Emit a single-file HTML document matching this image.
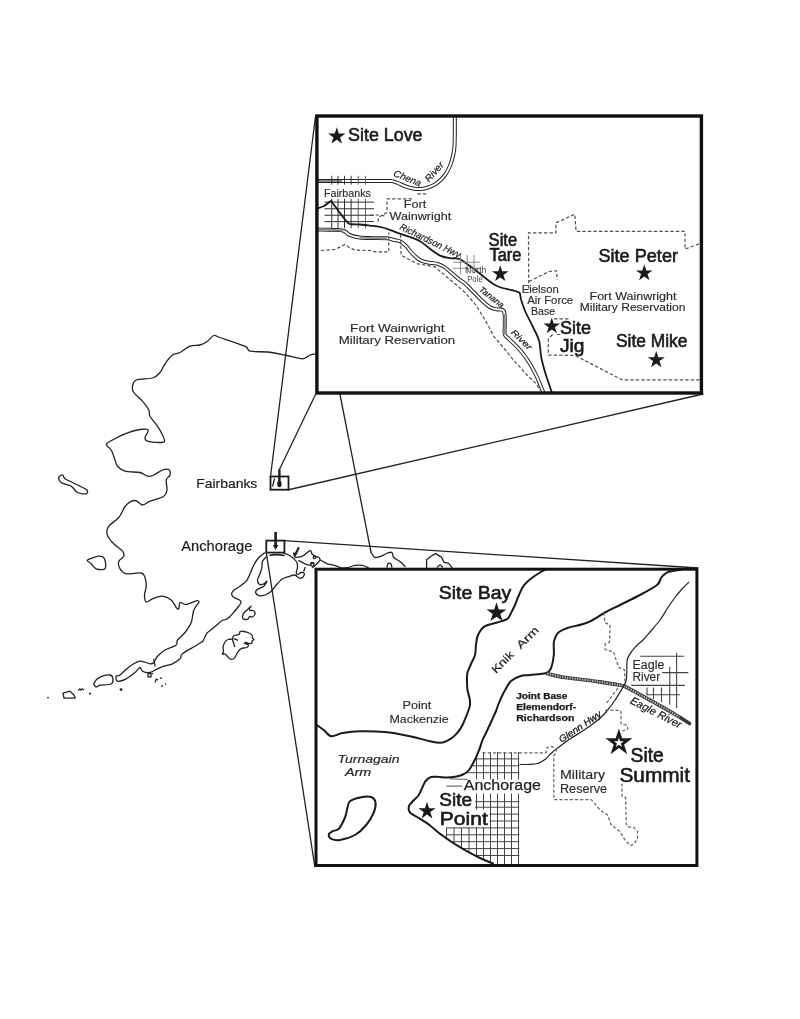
<!DOCTYPE html>
<html><head><meta charset="utf-8"><title>Alaska Nike sites map</title>
<style>html,body{margin:0;padding:0;background:#fff;}svg{display:block;will-change:transform;}text{font-family:"Liberation Sans",sans-serif;fill:#1a1a1a;}.c{fill:none;stroke:#222;stroke-width:1.3;stroke-linejoin:round;stroke-linecap:round;}.k{fill:none;stroke:#1a1a1a;stroke-width:2;stroke-linejoin:round;stroke-linecap:round;}.t{fill:none;stroke:#222;stroke-width:1;}.d{fill:none;stroke:#505050;stroke-width:1.2;stroke-dasharray:3.4 2.1;}.g{fill:none;stroke:#444;stroke-width:0.9;}.s{fill:#1a1a1a;stroke:none;}</style></head><body>
<svg width="800" height="1019" viewBox="0 0 800 1019">
<rect width="800" height="1019" fill="#fff"/>
<path class="c" d="M317.0 353.8C315.8 354.0 312.4 354.2 310.0 355.0C307.6 355.8 306.7 358.8 302.5 358.8C298.3 358.8 290.8 356.1 285.0 355.0C279.2 353.9 273.3 352.6 267.5 352.0C261.7 351.4 253.8 352.2 250.0 351.2C246.2 350.3 250.0 348.5 245.0 346.2C240.0 344.0 225.2 339.3 220.0 337.5C214.8 335.7 215.8 334.9 213.8 335.5C211.7 336.1 209.8 339.7 207.5 341.2C205.2 342.8 202.9 344.2 200.0 345.0C197.1 345.8 193.3 345.0 190.0 346.2C186.7 347.5 182.9 351.0 180.0 352.5C177.1 354.0 175.0 353.1 172.5 355.0C170.0 356.9 167.1 360.8 165.0 363.8C162.9 366.7 162.1 370.1 160.0 372.5C157.9 374.9 156.5 376.8 152.5 378.0C148.5 379.2 139.6 378.6 136.2 380.0C132.9 381.4 132.9 384.2 132.5 386.2C132.1 388.3 132.1 390.0 133.8 392.5C135.4 395.0 140.0 398.3 142.5 401.2C145.0 404.2 147.5 407.5 148.8 410.0C150.0 412.5 148.5 413.5 150.0 416.2C151.5 419.0 155.4 423.1 157.5 426.2C159.6 429.4 161.3 432.5 162.5 435.0C163.7 437.5 164.9 440.0 164.5 441.2C164.1 442.5 162.8 442.5 160.0 442.5C157.2 442.5 150.0 442.1 147.5 441.2C145.0 440.4 144.9 439.4 145.0 437.5C145.1 435.6 149.1 431.3 148.2 430.0C147.4 428.7 143.9 428.9 140.0 429.5C136.1 430.1 129.6 432.0 125.0 433.8C120.4 435.5 115.6 438.2 112.5 440.0C109.4 441.8 106.5 442.8 106.2 444.5C106.0 446.2 109.8 447.4 111.2 450.0C112.7 452.6 114.0 457.3 115.0 460.0C116.0 462.7 115.8 464.4 117.5 466.2C119.2 468.1 121.2 470.2 125.0 471.2C128.8 472.3 136.2 471.7 140.0 472.5C143.8 473.3 145.2 475.8 147.5 476.2C149.8 476.7 151.2 476.0 153.8 475.0C156.2 474.0 160.0 470.9 162.5 470.0C165.0 469.1 167.5 468.7 168.8 469.5C170.0 470.3 170.4 473.2 170.0 475.0C169.6 476.8 166.8 477.5 166.2 480.0C165.8 482.5 167.4 487.3 167.0 490.0C166.6 492.7 166.6 494.4 163.8 496.2C160.9 498.1 153.5 499.8 150.0 501.2C146.5 502.7 145.0 505.1 142.5 505.0C140.0 504.9 137.7 500.5 135.0 500.5C132.3 500.5 129.0 502.2 126.2 505.0C123.5 507.8 121.7 514.0 118.8 517.5C115.8 521.0 110.7 523.5 108.8 526.2C106.8 529.0 106.4 531.0 107.0 533.8C107.6 536.5 109.9 539.6 112.5 542.5C115.1 545.4 120.6 549.0 122.5 551.2C124.4 553.5 124.4 554.6 123.8 556.2C123.1 557.9 119.4 559.2 118.8 561.2C118.1 563.3 118.8 566.7 120.0 568.8C121.2 570.8 122.7 573.0 126.2 573.8C129.8 574.5 138.1 572.4 141.2 573.0C144.4 573.6 144.2 575.3 145.0 577.5C145.8 579.7 146.3 583.3 146.2 586.2C146.2 589.2 144.5 592.4 144.5 595.0C144.5 597.6 144.9 601.4 146.2 602.0C147.6 602.6 149.8 599.7 152.5 598.8C155.2 597.8 159.4 596.0 162.5 596.2C165.6 596.5 169.0 598.1 171.2 600.0C173.5 601.9 175.0 606.0 176.2 607.5C177.5 609.0 178.1 609.6 178.8 608.8C179.4 607.9 178.8 603.2 180.0 602.5C181.2 601.8 183.5 604.8 186.2 604.5C189.0 604.2 194.2 601.1 196.2 600.8C198.3 600.4 199.2 601.0 198.8 602.5C198.3 604.0 195.0 606.7 193.8 610.0C192.5 613.3 192.7 618.8 191.2 622.5C189.8 626.2 187.3 629.6 185.0 632.5C182.7 635.4 179.0 637.9 177.5 640.0C176.0 642.1 178.3 643.3 176.2 645.0C174.2 646.7 168.1 648.1 165.0 650.0C161.9 651.9 159.4 654.2 157.5 656.2C155.6 658.3 155.0 661.2 153.8 662.5C152.5 663.8 152.3 664.0 150.0 663.8C147.7 663.5 143.3 660.8 140.0 661.2C136.7 661.7 133.3 664.0 130.0 666.2C126.7 668.5 122.3 673.3 120.0 675.0C117.7 676.7 116.7 675.2 116.2 676.2C115.8 677.3 115.8 680.8 117.5 681.2C119.2 681.7 123.3 680.2 126.2 678.8C129.2 677.3 132.7 674.4 135.0 672.5C137.3 670.6 138.8 667.7 140.0 667.5C141.2 667.3 140.8 670.4 142.5 671.2C144.2 672.1 147.5 672.9 150.0 672.5C152.5 672.1 155.2 669.8 157.5 668.8C159.8 667.7 161.2 667.1 163.8 666.2C166.2 665.4 169.8 665.0 172.5 663.8C175.2 662.5 178.3 660.4 180.0 658.8C181.7 657.1 180.0 655.8 182.5 653.8C185.0 651.7 192.1 648.0 195.0 646.2C197.9 644.5 198.7 643.9 200.0 643.0C201.3 642.1 202.2 642.0 203.0 641.0C203.8 640.0 204.3 638.3 205.0 637.0C205.7 635.7 205.8 634.3 207.0 633.0C208.2 631.7 210.2 630.5 212.0 629.0C213.8 627.5 216.3 625.4 218.0 624.0C219.7 622.6 220.7 621.2 222.0 620.5C223.3 619.8 224.8 620.0 226.0 619.5C227.2 619.0 227.7 618.8 229.0 617.5C230.3 616.2 232.4 613.8 234.0 612.0C235.6 610.2 237.3 608.1 238.5 606.5C239.7 604.9 240.8 603.6 241.0 602.5C241.2 601.4 240.7 600.8 239.5 600.0C238.3 599.2 235.3 598.5 234.0 597.5C232.7 596.5 231.5 595.2 231.5 594.0C231.5 592.8 233.2 590.9 234.0 590.0C234.8 589.1 234.2 590.2 236.2 588.8C238.3 587.3 243.9 584.0 246.2 581.2C248.6 578.5 249.3 575.2 250.6 572.5C251.8 569.8 252.4 567.5 253.8 565.0C255.1 562.5 257.0 559.5 258.8 557.5C260.5 555.5 263.5 553.8 264.4 553.0"/>
<path class="c" d="M266.9 556.2C266.2 557.1 263.3 559.4 262.5 561.2C261.7 563.1 262.3 565.4 261.9 567.5C261.5 569.6 260.7 571.7 260.0 573.8C259.3 575.8 257.6 578.2 257.5 580.0C257.4 581.8 258.4 583.8 259.4 584.4C260.4 585.0 262.5 584.3 263.8 583.8C265.0 583.2 266.9 580.8 266.9 581.2C266.9 581.7 265.3 584.9 263.8 586.2C262.2 587.6 258.9 588.4 257.5 589.4C256.1 590.4 255.4 591.5 255.6 592.5C255.8 593.5 257.2 595.2 258.8 595.6C260.3 596.0 262.9 595.7 265.0 595.0C267.1 594.3 269.4 592.9 271.2 591.2C273.1 589.6 274.4 587.1 276.2 585.0C278.1 582.9 280.6 580.1 282.5 578.8C284.4 577.4 285.4 577.5 287.5 576.9C289.6 576.3 293.1 574.8 295.0 575.0C296.9 575.2 297.5 577.6 298.8 578.0C300.0 578.4 301.6 578.2 302.5 577.5C303.4 576.8 304.6 574.6 304.4 573.8C304.2 572.9 302.3 572.4 301.2 572.5C300.2 572.6 298.8 574.4 298.0 574.4C297.2 574.4 296.3 573.6 296.2 572.5C296.2 571.4 297.4 569.2 297.5 567.5C297.6 565.8 297.5 564.0 296.9 562.5C296.3 561.0 295.1 560.0 293.8 558.8C292.4 557.5 290.4 556.0 288.8 555.0C287.1 554.0 284.6 553.3 283.8 553.0"/>
<path class="c" style="stroke-width:1.6" d="M270 555.2Q277 553.8 284 555.6"/>
<path class="c" d="M295.0 557.5C296.2 557.3 300.0 557.4 302.5 556.2C305.0 555.1 308.4 551.0 310.0 550.6C311.6 550.2 311.1 552.8 311.9 553.8C312.7 554.7 313.9 555.6 315.0 556.2C316.1 556.9 317.9 556.9 318.8 557.5C319.6 558.1 320.6 558.6 320.0 560.0C319.4 561.4 316.2 564.4 315.0 565.6C313.8 566.9 312.9 567.2 312.5 567.5"/>
<path class="c" d="M298.8 560.6C299.8 561.1 303.1 563.0 305.0 563.8C306.9 564.5 309.0 565.2 310.0 565.0C311.0 564.8 310.6 562.8 311.2 562.5C311.9 562.2 313.5 562.9 314.0 563.0"/>
<path class="c" d="M305.0 567.5C304.8 568.1 304.0 570.6 303.8 571.2"/>
<path class="c" d="M320.0 560.0C321.2 560.6 325.0 562.8 327.5 563.8C330.0 564.7 332.9 565.0 335.0 565.6C337.1 566.2 339.2 567.2 340.0 567.5"/>
<circle class="c" cx="312.3" cy="564.6" r="1.6"/>
<circle class="c" cx="314.5" cy="557.3" r="1.3"/>
<path d="M298.9 547.3L294.6 556" stroke="#222" stroke-width="2.2" fill="none"/>
<path d="M292.8 552.2L297.2 553.6L294.2 557.4Z" fill="#222"/>
<path class="c" d="M340.0 568.0C341.2 567.9 345.0 568.0 347.5 567.6C350.0 567.2 352.5 565.8 355.0 565.4C357.5 565.0 360.2 565.0 362.5 565.4C364.8 565.8 367.7 567.6 368.8 568.0"/>
<path class="c" d="M386.9 567.2C387.1 566.6 387.4 564.4 388.0 563.8C388.6 563.1 390.0 562.9 390.6 563.5C391.2 564.1 391.7 566.6 391.9 567.2"/>
<path class="c" d="M340 394.5L371 552"/>
<path class="c" d="M371.0 552.0C371.1 552.3 371.2 552.8 371.9 553.8C372.6 554.7 373.4 557.1 375.0 557.5C376.6 557.9 379.2 557.0 381.2 556.2C383.3 555.5 385.7 553.6 387.5 553.0C389.3 552.4 390.9 551.8 391.9 552.5C392.9 553.2 392.4 556.0 393.8 557.5C395.1 559.0 398.1 560.0 400.0 561.5C401.9 563.0 404.2 565.7 405.0 566.5"/>
<path class="c" d="M426.6 567.6L426.6 559.8L431.0 556.2L435.4 553.6L441.5 557.1L444.1 562.4L448.5 563.2L452.0 567.6"/>
<path class="c" d="M437.5 567.0C437.9 566.6 439.2 564.8 440.0 564.8C440.8 564.8 442.1 566.6 442.5 567.0"/>
<path class="c" d="M58.8 477.5C59.0 476.2 61.5 474.8 62.5 475.0C63.5 475.2 63.3 477.5 65.0 478.8C66.7 480.0 70.0 481.2 72.5 482.5C75.0 483.8 77.6 485.0 80.0 486.2C82.4 487.5 86.0 488.8 87.0 490.0C88.0 491.2 87.8 493.3 86.2 493.8C84.7 494.2 80.0 493.8 77.5 492.5C75.0 491.2 74.0 487.9 71.2 486.2C68.5 484.6 63.3 484.0 61.2 482.5C59.2 481.0 58.5 478.8 58.8 477.5Z"/>
<path class="c" d="M87.5 560.0C88.8 558.8 95.9 556.5 98.8 556.2C101.6 556.0 103.5 556.7 104.5 558.8C105.5 560.8 106.4 567.1 105.0 568.8C103.6 570.4 98.5 569.6 96.2 568.8C94.0 567.9 92.7 565.2 91.2 563.8C89.8 562.3 86.2 561.2 87.5 560.0Z"/>
<path class="c" d="M94.0 683.0C94.7 681.4 97.3 678.5 100.0 677.2C102.7 675.9 107.8 674.7 110.0 675.0C112.2 675.3 112.8 677.5 113.0 679.0C113.2 680.5 113.2 683.0 111.0 684.0C108.8 685.0 102.5 684.7 100.0 685.2C97.5 685.7 97.0 687.4 96.0 687.0C95.0 686.6 93.3 684.6 94.0 683.0Z"/>
<path class="c" d="M63 693.2L70 691.2L74 695L75.2 698L64 698.2Z"/>
<path class="c" d="M222.5 654.0C222.3 653.6 223.4 651.8 223.5 651.0C223.6 650.2 222.8 648.0 223.0 647.0C223.2 646.0 224.4 642.9 225.0 642.0C225.6 641.1 227.2 639.9 228.0 639.5C228.8 639.1 231.4 639.4 232.0 639.0C232.6 638.6 233.0 636.5 233.5 636.0C234.0 635.5 235.8 635.2 236.5 635.0C237.2 634.8 239.1 634.4 239.5 634.0C239.9 633.6 239.5 631.8 240.0 631.5C240.5 631.2 242.9 631.3 244.0 631.5C245.1 631.7 248.1 632.6 249.0 633.0C249.9 633.4 251.6 634.4 252.0 635.0C252.4 635.6 252.3 637.5 252.5 638.0C252.7 638.5 254.1 639.1 254.0 639.5C253.9 639.9 252.2 640.6 252.0 641.0C251.8 641.4 252.3 642.7 252.0 643.0C251.7 643.3 249.7 643.6 249.0 643.5C248.3 643.4 246.5 642.5 246.0 642.5C245.5 642.5 244.7 643.2 245.0 643.5C245.3 643.8 248.3 644.5 248.5 645.0C248.7 645.5 247.6 647.1 247.0 647.5C246.4 647.9 243.8 647.8 243.0 648.0C242.2 648.2 240.6 649.0 240.0 649.5C239.4 650.0 238.0 651.7 237.5 652.5C237.0 653.3 236.0 655.7 235.5 656.5C235.0 657.3 233.6 658.7 233.0 659.0C232.4 659.3 230.6 659.3 230.0 659.0C229.4 658.7 228.1 657.1 227.5 656.5C226.9 655.9 225.6 654.3 225.0 654.0C224.4 653.7 222.7 654.4 222.5 654.0Z"/>
<path class="c" d="M232.5 639.5L234.6 646.5M234 638.6L237.5 640.2M244.5 642.8l3 0.4"/>
<circle cx="222.8" cy="653.8" r="1" fill="#222"/>
<path class="c" d="M242.5 616.5C242.6 615.8 243.3 613.9 244.0 613.0C244.7 612.1 246.6 610.4 247.5 609.5C248.4 608.6 250.7 606.1 251.0 606.0C251.3 605.9 249.6 607.9 249.5 608.5C249.4 609.1 249.5 610.2 250.0 610.5C250.5 610.8 252.3 610.2 253.0 610.5C253.7 610.8 254.8 611.9 255.0 612.5C255.2 613.1 254.9 614.4 254.5 615.0C254.1 615.6 252.7 616.8 252.0 617.0C251.3 617.2 250.0 616.2 249.5 616.5C249.0 616.8 248.6 618.6 248.0 619.0C247.4 619.4 245.7 619.6 245.0 619.5C244.3 619.4 243.3 618.9 243.0 618.5C242.7 618.1 242.4 617.2 242.5 616.5Z"/>
<path class="c" d="M153.8 659.5L155 666"/>
<path class="c" d="M148 673.5h3v3.4h-3z"/>
<path class="c" d="M78.6 690.2q1.2-2.4 2.4 0q1.2-2.6 2.6-0.4"/>
<path class="c" d="M155.4 682q0.6-4.4 2.2-2.2"/>
<circle cx="90.0" cy="693.6" r="1.1" fill="#222"/>
<circle cx="48.0" cy="697.6" r="0.9" fill="#222"/>
<circle cx="121.0" cy="689.6" r="1.4" fill="#222"/>
<circle cx="161.0" cy="678.2" r="0.9" fill="#222"/>
<circle cx="162.0" cy="686.0" r="0.9" fill="#222"/>
<circle cx="165.6" cy="684.0" r="0.8" fill="#222"/>
<circle cx="152.5" cy="673.5" r="0.8" fill="#222"/>
<rect x="270.5" y="476.5" width="18" height="13.2" fill="none" stroke="#1a1a1a" stroke-width="1.8"/>
<path d="M279.4 469.5V484" stroke="#1a1a1a" stroke-width="2.4" fill="none"/>
<ellipse cx="279.4" cy="484" rx="2.2" ry="3.2" fill="#1a1a1a"/>
<path class="c" d="M274.5 479l-1.8 7"/>
<rect x="266.3" y="540.6" width="18.1" height="12" fill="none" stroke="#1a1a1a" stroke-width="1.8"/>
<path d="M275.6 532V546" stroke="#1a1a1a" stroke-width="2.6" fill="none"/>
<path d="M272.8 545L278.4 545L275.6 550Z" fill="#1a1a1a"/>
<path class="c" d="M270.5 476.5L315.4 117"/>
<path class="c" d="M279.4 469.5L315.5 394.5"/>
<path class="c" d="M288.5 489.75L703 394"/>
<path class="c" d="M284.4 540.6L698 568"/>
<path class="c" d="M266.3 552.6L314.8 866.5"/>
<text x="196.3" y="488" font-size="13.5" textLength="61" lengthAdjust="spacingAndGlyphs" stroke="#222" stroke-width="0.2">Fairbanks</text>
<text x="181.3" y="551.3" font-size="14.5" textLength="71" lengthAdjust="spacingAndGlyphs" stroke="#222" stroke-width="0.2">Anchorage</text>
<rect x="316.9" y="116.0" width="384.5" height="277.0" fill="#fff" stroke="none"/>
<g clip-path="url(#ctop)">
<defs><clipPath id="ctop"><rect x="316.9" y="116.0" width="384.5" height="277.0"/></clipPath></defs>
<path d="M317 181H392" fill="none" stroke="#222" stroke-width="4.0"/>
<path d="M392.0 181.0C393.0 181.3 395.8 182.1 398.0 183.0C400.2 183.9 402.5 185.3 405.0 186.2C407.5 187.2 410.3 188.0 413.0 188.5C415.7 189.0 418.8 189.2 421.2 189.0C423.8 188.8 425.7 188.3 428.0 187.5C430.3 186.7 432.9 185.7 435.0 184.4C437.1 183.2 438.8 181.6 440.5 180.0C442.2 178.4 443.7 176.8 445.0 175.0C446.3 173.2 447.5 171.1 448.5 169.0C449.5 166.9 450.5 164.8 451.2 162.5C452.0 160.2 452.7 157.5 453.2 155.0C453.7 152.5 454.1 150.8 454.4 147.5C454.7 144.2 454.7 140.2 454.8 135.0C454.9 129.8 454.8 119.2 454.8 116.0" fill="none" stroke="#222" stroke-width="4.00" stroke-linejoin="round"/>
<path d="M392.0 181.0C393.0 181.3 395.8 182.1 398.0 183.0C400.2 183.9 402.5 185.3 405.0 186.2C407.5 187.2 410.3 188.0 413.0 188.5C415.7 189.0 418.8 189.2 421.2 189.0C423.8 188.8 425.7 188.3 428.0 187.5C430.3 186.7 432.9 185.7 435.0 184.4C437.1 183.2 438.8 181.6 440.5 180.0C442.2 178.4 443.7 176.8 445.0 175.0C446.3 173.2 447.5 171.1 448.5 169.0C449.5 166.9 450.5 164.8 451.2 162.5C452.0 160.2 452.7 157.5 453.2 155.0C453.7 152.5 454.1 150.8 454.4 147.5C454.7 144.2 454.7 140.2 454.8 135.0C454.9 129.8 454.8 119.2 454.8 116.0" fill="none" stroke="#fff" stroke-width="2.00" stroke-linejoin="round"/>
<path d="M317 181H392" fill="none" stroke="#fff" stroke-width="2.0"/>
<path d="M317 181H342" fill="none" stroke="#8a8a8a" stroke-width="2.0"/>
<path d="M331.75 175.8V184.6" stroke="#333" stroke-width="1" fill="none"/>
<path d="M331.75 198.8V228.2" stroke="#333" stroke-width="1" fill="none"/>
<path d="M338.00 175.8V184.6" stroke="#333" stroke-width="1" fill="none"/>
<path d="M338.00 198.8V228.2" stroke="#333" stroke-width="1" fill="none"/>
<path d="M344.50 175.8V184.6" stroke="#333" stroke-width="1" fill="none"/>
<path d="M344.50 198.8V228.2" stroke="#333" stroke-width="1" fill="none"/>
<path d="M351.10 175.8V184.6" stroke="#333" stroke-width="1" fill="none"/>
<path d="M351.10 198.8V228.2" stroke="#333" stroke-width="1" fill="none"/>
<path d="M358.25 175.8V184.6" stroke="#666" stroke-width="1" fill="none"/>
<path d="M358.25 198.8V228.2" stroke="#666" stroke-width="1" fill="none"/>
<path d="M365.50 175.8V184.6" stroke="#666" stroke-width="1" fill="none"/>
<path d="M365.50 198.8V228.2" stroke="#666" stroke-width="1" fill="none"/>
<path d="M324.5 202.10H374" stroke="#333" stroke-width="1" fill="none"/>
<path d="M324.5 208.75H374" stroke="#333" stroke-width="1" fill="none"/>
<path d="M324.5 215.25H374" stroke="#333" stroke-width="1" fill="none"/>
<path d="M324.5 221.60H374" stroke="#333" stroke-width="1" fill="none"/>
<path d="M317.0 229.5C319.2 229.6 325.6 229.6 330.0 229.8C334.4 230.0 340.0 229.7 343.2 230.6C346.5 231.5 346.8 233.8 349.5 235.0C352.2 236.2 355.8 237.0 359.5 237.5C363.2 238.0 367.4 238.0 372.0 238.1C376.6 238.2 383.3 238.0 387.0 238.3C390.7 238.6 391.8 239.5 394.0 240.0C396.2 240.5 398.0 240.2 400.0 241.2C402.0 242.3 404.2 244.2 406.2 246.2C408.3 248.3 410.2 251.5 412.5 253.8C414.8 256.0 417.5 258.5 420.0 260.0C422.5 261.5 424.6 261.9 427.5 262.5C430.4 263.1 434.6 262.9 437.5 263.8C440.4 264.6 442.5 265.8 445.0 267.5C447.5 269.2 450.0 271.7 452.5 273.8C455.0 275.8 457.9 278.4 460.0 280.0C462.1 281.6 462.7 281.4 465.0 283.5C467.3 285.6 471.0 289.5 474.0 292.5C477.0 295.5 480.2 299.0 483.0 301.5C485.8 304.0 488.2 306.2 490.5 307.5C492.8 308.8 494.5 308.9 496.5 309.3C498.5 309.7 501.2 309.1 502.5 309.8C503.8 310.4 504.1 311.1 504.5 313.5C504.9 315.9 504.8 320.5 504.8 324.0C504.9 327.5 504.1 332.0 504.8 334.5C505.5 337.0 506.6 336.5 509.0 339.0C511.4 341.5 516.2 345.8 519.5 349.5C522.8 353.2 525.8 357.2 528.5 361.5C531.2 365.8 534.0 371.0 536.0 375.0C538.0 379.0 539.2 382.3 540.5 385.5C541.8 388.7 543.4 392.6 544.0 394.0" fill="none" stroke="#222" stroke-width="3.90" stroke-linejoin="round"/>
<path d="M317.0 229.5C319.2 229.6 325.6 229.6 330.0 229.8C334.4 230.0 340.0 229.7 343.2 230.6C346.5 231.5 346.8 233.8 349.5 235.0C352.2 236.2 355.8 237.0 359.5 237.5C363.2 238.0 367.4 238.0 372.0 238.1C376.6 238.2 383.3 238.0 387.0 238.3C390.7 238.6 391.8 239.5 394.0 240.0C396.2 240.5 398.0 240.2 400.0 241.2C402.0 242.3 404.2 244.2 406.2 246.2C408.3 248.3 410.2 251.5 412.5 253.8C414.8 256.0 417.5 258.5 420.0 260.0C422.5 261.5 424.6 261.9 427.5 262.5C430.4 263.1 434.6 262.9 437.5 263.8C440.4 264.6 442.5 265.8 445.0 267.5C447.5 269.2 450.0 271.7 452.5 273.8C455.0 275.8 457.9 278.4 460.0 280.0C462.1 281.6 462.7 281.4 465.0 283.5C467.3 285.6 471.0 289.5 474.0 292.5C477.0 295.5 480.2 299.0 483.0 301.5C485.8 304.0 488.2 306.2 490.5 307.5C492.8 308.8 494.5 308.9 496.5 309.3C498.5 309.7 501.2 309.1 502.5 309.8C503.8 310.4 504.1 311.1 504.5 313.5C504.9 315.9 504.8 320.5 504.8 324.0C504.9 327.5 504.1 332.0 504.8 334.5C505.5 337.0 506.6 336.5 509.0 339.0C511.4 341.5 516.2 345.8 519.5 349.5C522.8 353.2 525.8 357.2 528.5 361.5C531.2 365.8 534.0 371.0 536.0 375.0C538.0 379.0 539.2 382.3 540.5 385.5C541.8 388.7 543.4 392.6 544.0 394.0" fill="none" stroke="#fff" stroke-width="1.90" stroke-linejoin="round"/>
<path d="M317.0 229.5C319.2 229.6 325.6 229.6 330.0 229.8C334.4 230.0 341.0 230.5 343.2 230.6" fill="none" stroke="#8a8a8a" stroke-width="2.0"/>
<path d="M359.5 237.5C361.6 237.6 367.4 238.0 372.0 238.1C376.6 238.2 384.5 238.3 387.0 238.3" fill="none" stroke="#8a8a8a" stroke-width="1.9"/>
<path d="M504.6 314V334.5" fill="none" stroke="#8a8a8a" stroke-width="1.9"/>
<path d="M317.0 208.6C318.2 208.2 321.7 207.2 324.0 206.0C326.3 204.8 329.2 201.7 330.8 201.2C332.2 200.8 331.5 201.5 333.0 203.5C334.5 205.5 338.0 210.3 340.0 213.0C342.0 215.7 343.4 217.7 345.0 219.5C346.6 221.3 347.0 222.9 349.5 223.8C352.0 224.6 356.6 224.2 360.0 224.5C363.4 224.8 366.2 225.1 370.0 225.6C373.8 226.1 378.3 226.4 382.5 227.5C386.7 228.6 390.8 230.4 395.0 231.9C399.2 233.4 403.3 234.7 407.5 236.2C411.7 237.8 416.2 239.2 420.0 241.2C423.8 243.3 426.7 246.4 430.0 248.8C433.3 251.1 436.7 254.0 440.0 255.6C443.3 257.2 446.8 257.7 450.0 258.2C453.2 258.8 456.5 258.0 459.0 258.8C461.5 259.5 462.8 261.0 465.0 262.5C467.2 264.0 470.0 265.9 472.5 267.8C475.0 269.6 477.5 271.8 480.0 273.8C482.5 275.8 485.0 277.9 487.5 279.8C490.0 281.6 492.5 283.6 495.0 285.0C497.5 286.4 500.0 287.2 502.5 288.0C505.0 288.8 507.5 289.2 510.0 289.8C512.5 290.4 515.9 291.2 517.5 291.8C519.1 292.3 519.1 291.9 519.8 293.2C520.4 294.6 520.3 296.9 521.2 300.0C522.2 303.1 523.5 307.5 525.5 312.0C527.5 316.5 530.8 322.2 533.0 327.0C535.2 331.8 537.6 335.5 539.0 340.5C540.4 345.5 540.2 351.8 541.2 357.0C542.2 362.2 543.6 367.2 545.0 372.0C546.4 376.8 548.3 381.8 549.5 385.5C550.7 389.2 551.8 392.6 552.3 394.0" fill="none" stroke="#1a1a1a" stroke-width="1.8" stroke-linejoin="round"/>
<path d="M460.50 255V273.75" stroke="#8c8c8c" stroke-width="1" fill="none"/>
<path d="M467.25 255V273.75" stroke="#8c8c8c" stroke-width="1" fill="none"/>
<path d="M474.00 255V273.75" stroke="#8c8c8c" stroke-width="1" fill="none"/>
<path d="M453 262.20H480" stroke="#8c8c8c" stroke-width="1" fill="none"/>
<path d="M453 268.20H480" stroke="#8c8c8c" stroke-width="1" fill="none"/>
<path class="d" d="M321.0 250.5L335.0 249.5L345.0 244.5L350.0 248.0L355.0 250.0L370.0 250.5L375.0 251.9L388.8 251.9L388.8 232.5"/>
<path class="d" d="M400.6 234.4L401.0 255.0L407.5 258.8L417.5 263.8L425.0 265.0L435.0 266.9L440.0 271.2L447.5 277.5L455.0 283.8L465.0 292.5L475.5 304.5L483.0 316.5L489.0 327.0L493.5 336.0L500.0 343.5L513.5 360.0L527.0 375.0L534.5 381.8L541.0 391.0"/>
<path class="d" d="M426.3 193.8L416.0 193.8"/>
<path class="d" d="M412.0 198.9L387.0 198.9L387.0 212.5L378.2 217.5L378.2 223.5"/>
<path class="d" d="M370.0 215.0L377.5 215.0L386.0 216.0"/>
<path class="d" d="M528.7 288.8L528.5 232.8L555.9 232.8L555.9 222.9L574.8 214.2L576.1 231.3L685.0 231.3L685.0 249.1L700.0 243.5"/>
<path class="d" d="M529.0 281.5L549.0 271.5L556.5 270.8L557.2 280.0"/>
<path class="d" d="M554.0 318.8L568.0 318.8L568.0 323.0"/>
<path class="d" d="M557.0 334.5L562.5 334.5"/>
<path class="d" d="M552.5 334.5L548.3 339.0L548.3 355.0L575.0 355.5L622.2 379.8L700.0 379.8"/>
<path class="s" d="M336.8 127.3L338.8 133.5L345.4 133.5L340.1 137.4L342.1 143.6L336.8 139.7L331.5 143.6L333.5 137.4L328.2 133.5L334.8 133.5Z"/>
<path class="s" d="M500.2 265.2L502.2 271.3L508.6 271.3L503.4 275.0L505.4 281.1L500.2 277.4L495.1 281.1L497.1 275.0L491.9 271.3L498.3 271.3Z"/>
<path class="s" d="M644.3 264.3L646.3 270.4L652.7 270.4L647.5 274.1L649.5 280.2L644.3 276.5L639.1 280.2L641.1 274.1L635.9 270.4L642.3 270.4Z"/>
<path class="s" d="M551.8 317.4L553.7 323.5L560.1 323.5L554.9 327.2L556.9 333.3L551.8 329.6L546.6 333.3L548.6 327.2L543.4 323.5L549.8 323.5Z"/>
<path class="s" d="M656.2 351.0L658.3 357.2L664.8 357.2L659.5 361.1L661.5 367.3L656.2 363.4L651.0 367.3L653.0 361.1L647.7 357.2L654.2 357.2Z"/>
<text x="348.1" y="140.6" font-size="17.5" textLength="74.4" lengthAdjust="spacingAndGlyphs" stroke="#1a1a1a" stroke-width="0.6">Site Love</text>
<text x="488.6" y="245.5" font-size="17.5" textLength="28.5" lengthAdjust="spacingAndGlyphs" stroke="#1a1a1a" stroke-width="0.6">Site</text>
<text x="489.5" y="261.0" font-size="17.5" textLength="32.0" lengthAdjust="spacingAndGlyphs" stroke="#1a1a1a" stroke-width="0.6">Tare</text>
<text x="598.5" y="262.0" font-size="17.5" textLength="79.5" lengthAdjust="spacingAndGlyphs" stroke="#1a1a1a" stroke-width="0.6">Site Peter</text>
<text x="560.0" y="333.8" font-size="17.5" textLength="31.0" lengthAdjust="spacingAndGlyphs" stroke="#1a1a1a" stroke-width="0.6">Site</text>
<text x="560.0" y="351.8" font-size="17.5" textLength="24.5" lengthAdjust="spacingAndGlyphs" stroke="#1a1a1a" stroke-width="0.6">Jig</text>
<text x="616.0" y="346.5" font-size="17.5" textLength="71.4" lengthAdjust="spacingAndGlyphs" stroke="#1a1a1a" stroke-width="0.6">Site Mike</text>
<text x="323.9" y="196.9" font-size="11.0" textLength="47.0" lengthAdjust="spacingAndGlyphs" style="fill:#2a2a2a" stroke="#2a2a2a" stroke-width="0.15">Fairbanks</text>
<text x="403.8" y="207.5" font-size="11.5" textLength="22.5" lengthAdjust="spacingAndGlyphs" style="fill:#2a2a2a" stroke="#2a2a2a" stroke-width="0.15">Fort</text>
<text x="389.5" y="220.0" font-size="11.5" textLength="61.8" lengthAdjust="spacingAndGlyphs" style="fill:#2a2a2a" stroke="#2a2a2a" stroke-width="0.15">Wainwright</text>
<text x="350.1" y="331.6" font-size="11.3" textLength="94.5" lengthAdjust="spacingAndGlyphs" style="fill:#2a2a2a" stroke="#2a2a2a" stroke-width="0.15">Fort Wainwright</text>
<text x="338.8" y="343.9" font-size="11.3" textLength="116.4" lengthAdjust="spacingAndGlyphs" style="fill:#2a2a2a" stroke="#2a2a2a" stroke-width="0.15">Military Reservation</text>
<text x="589.5" y="299.6" font-size="10.4" textLength="87.0" lengthAdjust="spacingAndGlyphs" style="fill:#2a2a2a" stroke="#2a2a2a" stroke-width="0.15">Fort Wainwright</text>
<text x="579.8" y="311.0" font-size="10.4" textLength="105.6" lengthAdjust="spacingAndGlyphs" style="fill:#2a2a2a" stroke="#2a2a2a" stroke-width="0.15">Military Reservation</text>
<text x="521.7" y="293.2" font-size="11.0" textLength="37.0" lengthAdjust="spacingAndGlyphs" style="fill:#2a2a2a" stroke="#2a2a2a" stroke-width="0.15">Eielson</text>
<text x="527.2" y="303.9" font-size="11.0" textLength="46.0" lengthAdjust="spacingAndGlyphs" style="fill:#2a2a2a" stroke="#2a2a2a" stroke-width="0.15">Air Force</text>
<text x="531.0" y="315.0" font-size="11.0" textLength="24.0" lengthAdjust="spacingAndGlyphs" style="fill:#2a2a2a" stroke="#2a2a2a" stroke-width="0.15">Base</text>
<text x="465.0" y="273.3" font-size="9.0" textLength="21.5" lengthAdjust="spacingAndGlyphs" style="fill:#444">North</text>
<text x="467.2" y="281.5" font-size="9.0" textLength="15.5" lengthAdjust="spacingAndGlyphs" style="fill:#444">Pole</text>
<text transform="translate(399.0 229.0) rotate(26.0)" font-size="9.5" textLength="66.5" lengthAdjust="spacingAndGlyphs" font-style="italic" stroke="#1a1a1a" stroke-width="0.2">Richardson Hwy</text>
<text transform="translate(392.8 175.8) rotate(22.0)" font-size="9.5" textLength="29.0" lengthAdjust="spacingAndGlyphs" font-style="italic" stroke="#1a1a1a" stroke-width="0.2">Chena</text>
<text transform="translate(429.0 182.5) rotate(-48.0)" font-size="9.5" textLength="23.0" lengthAdjust="spacingAndGlyphs" font-style="italic" stroke="#1a1a1a" stroke-width="0.2">River</text>
<text transform="translate(478.5 290.5) rotate(38.0)" font-size="8.5" textLength="29.0" lengthAdjust="spacingAndGlyphs" font-style="italic" stroke="#1a1a1a" stroke-width="0.2">Tanana</text>
<text transform="translate(510.5 333.0) rotate(44.0)" font-size="8.5" textLength="25.0" lengthAdjust="spacingAndGlyphs" font-style="italic" stroke="#1a1a1a" stroke-width="0.2">River</text>
</g>
<rect x="316.9" y="116.0" width="384.5" height="277.0" fill="none" stroke="#111" stroke-width="3.4"/>
<rect x="316.0" y="569.2" width="380.9" height="296.3" fill="#fff" stroke="none"/>
<defs><clipPath id="cbot"><rect x="316.0" y="569.2" width="380.9" height="296.3"/></clipPath>
<clipPath id="cgrid"><path d="M483.5 738L479.5 749L475 759.5L469 770L466 773L466 790L430 790L430 825.5L439 833L449.5 840.5L460 847.25L470.5 853.25L481 858.5L493 864L530 866L530 740Z"/></clipPath>
</defs>
<g clip-path="url(#cbot)">
<g clip-path="url(#cgrid)" stroke="#444" stroke-width="1" fill="none">
<path d="M476.50 752V779.5M476.50 793.5V865"/>
<path d="M483.50 752V779.5M483.50 793.5V865"/>
<path d="M490.50 752V779.5M490.50 793.5V865"/>
<path d="M497.50 752V779.5M497.50 793.5V865"/>
<path d="M504.50 752V779.5M504.50 793.5V865"/>
<path d="M511.50 752V779.5M511.50 793.5V865"/>
<path d="M518.50 752V779.5M518.50 793.5V865"/>
<path d="M446.50 827.9V865"/>
<path d="M454.00 827.9V865"/>
<path d="M461.50 827.9V865"/>
<path d="M469.00 827.9V865"/>
<path d="M466 758.90H519.3"/>
<path d="M466 765.80H519.3"/>
<path d="M466 772.70H519.3"/>
<path d="M475 801.70H519.3"/>
<path d="M475 807.20H519.3"/>
<path d="M475 814.10H519.3"/>
<path d="M475 821.00H519.3"/>
<path d="M446 827.90H519.3"/>
<path d="M446 834.80H519.3"/>
<path d="M446 841.70H519.3"/>
<path d="M446 848.60H519.3"/>
<path d="M446 855.50H519.3"/>
</g>
<rect x="438" y="793" width="36.5" height="34" fill="#fff"/>
<rect x="474" y="809.5" width="15.5" height="17.6" fill="#fff"/>
<path d="M446.5 786.2H462.3" stroke="#999" stroke-width="1.8" fill="none"/>
<path d="M449.5 778.9L467.5 779.4" stroke="#333" stroke-width="0.8" fill="none"/>
<path class="k" d="M548.5 568.0C547.1 568.8 542.7 570.9 540.0 572.5C537.3 574.1 534.8 575.8 532.5 577.5C530.2 579.2 527.7 581.3 526.0 583.0C524.3 584.7 523.8 585.3 522.5 587.5C521.2 589.7 519.8 593.1 518.5 596.0C517.2 598.9 516.2 602.2 515.0 605.0C513.8 607.8 512.2 610.7 511.0 613.0C509.8 615.3 509.8 617.2 507.5 618.8C505.2 620.3 500.8 621.2 497.0 622.5C493.2 623.8 488.2 624.2 485.0 626.2C481.8 628.3 479.5 631.9 478.0 635.0C476.5 638.1 476.5 641.7 476.0 645.0C475.5 648.3 475.8 651.8 475.0 655.0C474.2 658.2 472.2 661.1 471.0 664.0C469.8 666.9 468.2 669.7 467.5 672.5C466.8 675.3 467.0 678.1 467.0 681.0C467.0 683.9 467.1 687.2 467.5 690.0C467.9 692.8 469.1 695.5 469.5 698.0C469.9 700.5 470.3 702.5 470.0 705.0C469.7 707.5 468.8 709.7 467.5 713.0C466.2 716.3 464.1 721.8 462.5 725.0C460.9 728.2 459.7 729.9 458.0 732.0C456.3 734.1 455.1 735.8 452.5 737.5C449.9 739.2 446.2 741.9 442.5 742.5C438.8 743.1 435.4 742.3 430.0 741.2C424.6 740.2 417.5 737.8 410.0 736.2C402.5 734.7 393.3 732.8 385.0 732.0C376.7 731.2 367.1 731.1 360.0 731.2C352.9 731.4 347.3 732.2 342.5 733.0C337.7 733.8 334.4 736.8 331.2 736.2C328.1 735.8 326.3 732.0 323.8 730.0C321.2 728.0 317.3 725.4 316.0 724.5"/>
<path class="k" d="M682.0 569.5C680.0 569.8 672.8 570.8 670.0 571.5C667.2 572.2 666.5 572.7 665.0 573.8C663.5 574.8 662.3 576.1 661.0 578.0C659.7 579.9 660.5 582.2 657.0 585.0C653.5 587.8 646.2 591.7 640.0 595.0C633.8 598.3 625.8 602.1 620.0 605.0C614.2 607.9 610.4 609.6 605.0 612.5C599.6 615.4 593.8 619.9 587.5 622.5C581.2 625.1 572.2 626.4 567.5 628.0C562.8 629.6 560.9 630.7 559.0 632.0C557.1 633.3 556.9 634.2 556.0 636.0C555.1 637.8 554.1 639.3 553.8 642.5C553.4 645.7 554.2 650.8 553.8 655.0C553.3 659.2 552.5 664.5 551.2 667.5C550.0 670.5 549.8 671.8 546.2 673.0C542.7 674.2 534.4 674.5 530.0 675.0C525.6 675.5 523.2 675.2 520.0 676.2C516.8 677.2 513.3 679.0 511.0 681.0C508.7 683.0 507.5 686.0 506.0 688.5C504.5 691.0 503.2 693.4 502.0 696.0C500.8 698.6 499.5 701.5 498.5 704.0C497.5 706.5 497.1 708.3 496.0 711.0C494.9 713.7 493.2 717.2 492.0 720.0C490.8 722.8 489.6 725.2 488.5 727.5C487.4 729.8 486.5 731.9 485.5 734.0C484.5 736.1 483.5 737.5 482.5 740.0C481.5 742.5 480.8 745.8 479.5 749.0C478.2 752.2 476.8 756.0 475.0 759.5C473.2 763.0 471.0 767.5 469.0 770.0C467.0 772.5 465.3 773.4 463.0 774.5C460.7 775.6 457.6 776.3 455.0 776.8C452.4 777.3 450.4 777.6 447.5 777.6C444.6 777.6 440.2 776.9 437.5 776.8C434.8 776.6 432.9 776.4 431.0 777.0C429.1 777.6 427.3 779.0 426.0 780.5C424.7 782.0 424.2 783.6 423.0 786.0C421.8 788.4 420.4 792.5 418.8 795.0C417.1 797.5 414.6 799.2 413.0 801.0C411.4 802.8 409.5 804.1 409.0 806.0C408.5 807.9 408.2 810.4 410.0 812.5C411.8 814.6 416.7 816.6 420.0 818.8C423.3 820.9 426.8 823.1 430.0 825.5C433.2 827.9 435.8 830.5 439.0 833.0C442.2 835.5 446.0 838.1 449.5 840.5C453.0 842.9 456.5 845.1 460.0 847.2C463.5 849.4 467.0 851.4 470.5 853.2C474.0 855.1 477.2 856.8 481.0 858.5C484.8 860.2 491.0 862.7 493.0 863.5"/>
<path class="k" d="M350.0 801.2C352.1 799.6 356.5 798.2 360.0 797.5C363.5 796.8 368.7 796.2 371.2 797.0C373.8 797.8 375.1 799.9 375.5 802.5C375.9 805.1 375.3 808.8 373.8 812.5C372.2 816.2 369.4 821.2 366.2 825.0C363.1 828.8 359.4 832.5 355.0 835.0C350.6 837.5 344.0 839.4 340.0 840.0C336.0 840.6 333.1 839.7 331.2 838.8C329.4 837.8 328.5 835.8 328.8 834.5C329.0 833.2 330.8 832.2 332.5 831.2C334.2 830.3 336.7 831.0 338.8 828.8C340.8 826.5 343.5 821.0 345.0 817.5C346.5 814.0 346.7 810.2 347.5 807.5C348.3 804.8 347.9 802.9 350.0 801.2Z"/>
<path d="M547.5 673.8C550.4 674.4 557.9 676.4 565.0 677.5C572.1 678.6 583.5 679.6 590.0 680.5C596.5 681.4 599.2 681.9 603.8 682.6C608.3 683.3 614.1 684.1 617.5 684.7C620.9 685.3 621.0 684.8 624.4 686.3C627.8 687.8 633.5 691.1 638.1 693.6C642.7 696.1 647.3 698.7 651.9 701.2C656.5 703.7 661.0 706.1 665.6 708.8C670.2 711.4 675.4 714.5 679.4 717.0C683.4 719.5 687.8 722.4 689.5 723.5" fill="none" stroke="#3a3a3a" stroke-width="3.7" stroke-linecap="round"/>
<path d="M547.5 673.8C550.4 674.4 557.9 676.4 565.0 677.5C572.1 678.6 583.5 679.6 590.0 680.5C596.5 681.4 599.2 681.9 603.8 682.6C608.3 683.3 614.1 684.1 617.5 684.7C620.9 685.3 621.0 684.8 624.4 686.3C627.8 687.8 633.5 691.1 638.1 693.6C642.7 696.1 647.3 698.7 651.9 701.2C656.5 703.7 661.0 706.1 665.6 708.8C670.2 711.4 677.1 715.6 679.4 717.0" fill="none" stroke="#c8c8c8" stroke-width="2.0" stroke-dasharray="1.2 1.3"/>
<path d="M689.0 582.0C687.8 583.2 684.3 586.4 682.0 589.0C679.7 591.6 677.5 594.2 675.0 597.5C672.5 600.8 669.5 605.2 667.0 609.0C664.5 612.8 662.8 616.2 660.0 620.0C657.2 623.8 652.8 628.7 650.0 632.0C647.2 635.3 645.4 637.5 643.0 640.0C640.6 642.5 637.7 644.4 635.4 646.9C633.1 649.4 630.6 652.8 629.2 655.1C627.8 657.4 627.5 657.9 627.1 660.6C626.7 663.4 627.0 668.2 626.8 671.6C626.6 675.0 626.9 678.3 626.0 681.2C625.1 684.2 623.5 686.3 621.6 689.5C619.7 692.7 617.3 696.8 614.8 700.5C612.2 704.2 609.2 708.3 606.5 711.5C603.8 714.7 601.0 717.3 598.2 719.8C595.5 722.2 592.6 724.1 590.0 726.0C587.4 727.9 585.8 728.8 582.5 731.0C579.2 733.2 574.4 736.0 570.0 739.0C565.6 742.0 559.6 746.4 556.2 749.0C552.9 751.6 551.9 752.8 550.0 754.5C548.1 756.2 547.1 758.0 545.0 759.5C542.9 761.0 540.0 762.7 537.5 763.5C535.0 764.3 533.0 764.1 530.0 764.3C527.0 764.5 521.2 764.5 519.5 764.5" fill="none" stroke="#222" stroke-width="1.2"/>
<g stroke="#444" stroke-width="1.1" fill="none">
<path d="M640.2 656.2H684.2M662.2 672.6H688.3M631.3 685.4H684.9M646.4 694.7H680"/>
<path d="M676.6 653V708M669.75 666.8V704.6M661.5 687.4V701.9M653.5 687.4V699M647 687.4V695"/>
</g>
<path d="M603.8 612.5L605.0 622.5L610.0 625.0L609.5 642.0L605.1 644.1L605.1 649.6L613.4 651.7L615.4 657.9L618.9 667.5L624.4 669.6L625.0 682.0" fill="none" stroke="#666" stroke-width="1.25" stroke-dasharray="3.2 2"/>
<path d="M618.0 688.0L606.5 703.2" fill="none" stroke="#666" stroke-width="1.25" stroke-dasharray="3.2 2"/>
<path d="M605.1 710.1L619.6 710.4L621.0 711.5L621.0 723.9L627.1 725.2L627.8 729.4L622.3 730.8" fill="none" stroke="#666" stroke-width="1.25" stroke-dasharray="3.2 2"/>
<path d="M482.5 752.8L546.0 752.8L547.0 747.5L552.0 746.5L556.5 750.5L553.8 756.0L553.8 799.5L591.2 799.5L600.0 810.0L607.5 815.0L611.2 825.0L620.0 831.5L625.0 840.0L630.6 845.6L634.4 843.8L637.5 838.0L637.5 831.2L633.8 827.5L627.5 826.9L626.2 823.8L625.6 797.5L622.0 796.5L622.0 783.0" fill="none" stroke="#666" stroke-width="1.25" stroke-dasharray="3.2 2"/>
<path class="s" d="M496.5 602.3L498.8 609.5L506.4 609.5L500.3 613.9L502.6 621.1L496.5 616.7L490.4 621.1L492.7 613.9L486.6 609.5L494.2 609.5Z"/>
<path class="s" d="M427.0 801.8L429.1 808.2L435.7 808.2L430.3 812.1L432.4 818.4L427.0 814.5L421.6 818.4L423.7 812.1L418.3 808.2L424.9 808.2Z"/>
<path class="s" d="M618.9 728.5L622.1 738.3L632.4 738.3L624.1 744.4L627.2 754.2L618.9 748.1L610.6 754.2L613.7 744.4L605.4 738.3L615.7 738.3Z"/>
<path d="M618.9 737.5L620.1 741.2L623.9 741.2L620.8 743.4L622.0 747.1L618.9 744.8L615.8 747.1L617.0 743.4L613.9 741.2L617.7 741.2Z" fill="#fff"/>
<text x="438.8" y="598.8" font-size="18.8" textLength="72.5" lengthAdjust="spacingAndGlyphs" stroke="#1a1a1a" stroke-width="0.6">Site Bay</text>
<text x="439.3" y="806.0" font-size="18.0" textLength="32.7" lengthAdjust="spacingAndGlyphs" stroke="#1a1a1a" stroke-width="0.6">Site</text>
<text x="439.8" y="824.8" font-size="18.0" textLength="48.0" lengthAdjust="spacingAndGlyphs" stroke="#1a1a1a" stroke-width="0.6">Point</text>
<text x="630.6" y="762.4" font-size="20.0" textLength="33.2" lengthAdjust="spacingAndGlyphs" stroke="#1a1a1a" stroke-width="0.6">Site</text>
<text x="619.5" y="782.0" font-size="20.0" textLength="70.5" lengthAdjust="spacingAndGlyphs" stroke="#1a1a1a" stroke-width="0.6">Summit</text>
<text x="463.8" y="790.4" font-size="15.0" textLength="77.2" lengthAdjust="spacingAndGlyphs" style="fill:#222" stroke="#222" stroke-width="0.25">Anchorage</text>
<text x="402.5" y="709.2" font-size="11.5" textLength="28.8" lengthAdjust="spacingAndGlyphs" style="fill:#2a2a2a" stroke="#2a2a2a" stroke-width="0.15">Point</text>
<text x="389.5" y="722.5" font-size="11.5" textLength="59.2" lengthAdjust="spacingAndGlyphs" style="fill:#2a2a2a" stroke="#2a2a2a" stroke-width="0.15">Mackenzie</text>
<text x="337.5" y="762.5" font-size="11.0" textLength="62.0" lengthAdjust="spacingAndGlyphs" font-style="italic" style="fill:#2a2a2a" stroke="#2a2a2a" stroke-width="0.2">Turnagain</text>
<text x="345.0" y="775.5" font-size="11.0" textLength="26.2" lengthAdjust="spacingAndGlyphs" font-style="italic" style="fill:#2a2a2a" stroke="#2a2a2a" stroke-width="0.2">Arm</text>
<text x="632.6" y="668.5" font-size="12.3" textLength="31.7" lengthAdjust="spacingAndGlyphs" style="fill:#2a2a2a" stroke="#2a2a2a" stroke-width="0.15">Eagle</text>
<text x="632.6" y="681.2" font-size="12.3" textLength="27.5" lengthAdjust="spacingAndGlyphs" style="fill:#2a2a2a" stroke="#2a2a2a" stroke-width="0.15">River</text>
<text x="560.0" y="778.8" font-size="12.0" textLength="45.0" lengthAdjust="spacingAndGlyphs" style="fill:#2a2a2a" stroke="#2a2a2a" stroke-width="0.15">Military</text>
<text x="560.0" y="793.2" font-size="12.0" textLength="47.0" lengthAdjust="spacingAndGlyphs" style="fill:#2a2a2a" stroke="#2a2a2a" stroke-width="0.15">Reserve</text>
<text x="516.2" y="698.8" font-size="8.6" textLength="51.2" lengthAdjust="spacingAndGlyphs" font-weight="bold" stroke="#1a1a1a" stroke-width="0.25">Joint Base</text>
<text x="516.2" y="709.5" font-size="8.6" textLength="60.0" lengthAdjust="spacingAndGlyphs" font-weight="bold" stroke="#1a1a1a" stroke-width="0.25">Elemendorf-</text>
<text x="516.2" y="720.5" font-size="8.6" textLength="58.2" lengthAdjust="spacingAndGlyphs" font-weight="bold" stroke="#1a1a1a" stroke-width="0.25">Richardson</text>
<text transform="translate(496.0 674.0) rotate(-45.0)" font-size="10.8" textLength="26.0" lengthAdjust="spacingAndGlyphs" style="fill:#222" stroke="#222" stroke-width="0.2">Knik</text>
<text transform="translate(520.8 649.5) rotate(-45.0)" font-size="10.8" textLength="26.5" lengthAdjust="spacingAndGlyphs" style="fill:#222" stroke="#222" stroke-width="0.2">Arm</text>
<text transform="translate(629.4 703.0) rotate(27.2)" font-size="11.0" textLength="56.0" lengthAdjust="spacingAndGlyphs" font-style="italic" stroke="#1a1a1a" stroke-width="0.2">Eagle River</text>
<text transform="translate(561.5 743.0) rotate(-33.7)" font-size="9.5" textLength="49.0" lengthAdjust="spacingAndGlyphs" font-style="italic" stroke="#1a1a1a" stroke-width="0.3">Glenn Hwy</text>
</g>
<rect x="316.0" y="569.2" width="380.9" height="296.3" fill="none" stroke="#111" stroke-width="3"/>
</svg></body></html>
